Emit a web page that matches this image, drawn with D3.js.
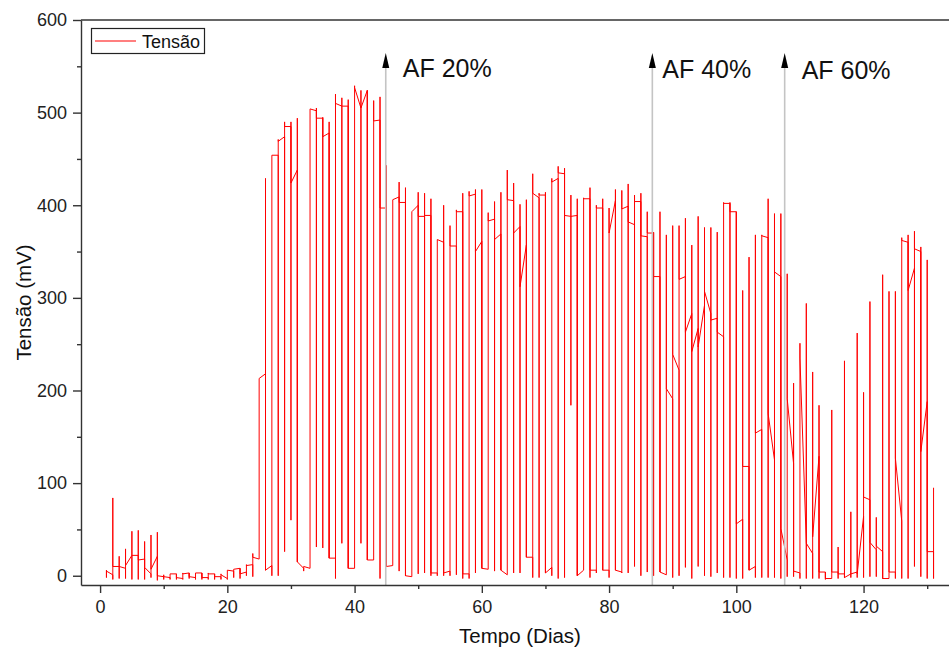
<!DOCTYPE html>
<html>
<head>
<meta charset="utf-8">
<script src="https://cdn.jsdelivr.net/npm/d3@7"></script>
<style>
  html, body { margin: 0; padding: 0; background: #fff; }
  svg { display: block; font-family: "Liberation Sans", Arial, sans-serif; }
</style>
</head>
<body>
<svg id="chart" width="949" height="653"></svg>
<script>
// Tensão diária: cada dia tem valor de entrada, mínimo, máximo e saída (mV)
const firstDay = 1;
const dayIn = [5, 1, 10, 8, 22, 22, 18, 2, 21, -1,
  -2, 2, -3, 3, -2, 3, -2, 2, -1, -3,
  5, 8, 4, 12, 18, 218, 11, 454, 474, 485,
  438, 8, 8, 502, 494, 478, 19, 507, 507, 8,
  505, 524, 17, 492, 397, 11, 409, 403, -1, 400,
  388, 389, 3, 360, 5, 356, 393, 2, 412, 361,
  7, 385, 369, 1, 405, 377, 357, 20, 408, 411,
  9, 429, 434, 388, 389, 6, 407, 6, 397, 6,
  405, 4, 399, 379, 404, 366, 370, 323, 1, 191,
  222, 323, 283, 267, 292, 283, 278, 258, 402, 393,
  61, 118, 10, 158, 365, 125, 323, 17, 121, 3,
  36, 24, 129, 4, -3, 4, 2, 2, 4, 64,
  82, 28, 26, -3, 4, 59, 360, 332, 350, 188,
  26];
const dayLow = [-2, -4, -3, -3, -4, -4, -4, -2, -5, -4,
  -4, -4, -4, -3, -4, -4, -4, -4, -4, -4,
  -2, -3, 0, -1, 18, 6, 0, 0, 26, 60,
  15, 5, 8, 31, 30, 19, -3, 35, 8, 8,
  35, 17, 17, -3, 10, 11, 5, 0, -1, 2,
  3, 0, 0, 0, 0, 1, -3, -3, 3, 8,
  7, 5, 6, 1, 3, 3, 20, -2, -2, 3,
  0, -3, -2, 184, 0, 6, -2, 3, 6, -2,
  6, 3, 3, 10, 0, 4, 0, 4, 1, -2,
  0, 9, -3, 10, 0, -1, 3, -2, -2, -3,
  -3, 6, -2, -2, -2, -2, -3, -1, -1, -3,
  -3, -3, -3, -4, -3, -3, -2, -2, -2, -2,
  -1, -1, -3, -3, -3, -3, -3, 10, -1, -3,
  -3];
const dayHigh = [6, 84, 21, 29, 48, 49, 37, 44, 47, 1,
  2, 2, 3, 3, 3, 3, 3, 2, 2, 6,
  7, 8, 12, 24, 213, 429, 454, 471, 490, 490,
  494, 10, 503, 505, 495, 490, 520, 516, 514, 529,
  524, 524, 513, 517, 443, 406, 425, 419, 393, 414,
  413, 407, 363, 400, 378, 395, 413, 415, 417, 417,
  392, 404, 414, 438, 424, 401, 406, 434, 413, 414,
  429, 442, 440, 411, 407, 408, 419, 400, 407, 397,
  417, 416, 423, 411, 413, 393, 371, 393, 368, 378,
  378, 386, 357, 388, 376, 376, 371, 403, 403, 393,
  308, 344, 368, 368, 407, 391, 391, 326, 208, 251,
  294, 220, 184, 4, 179, 31, 232, 69, 262, 198,
  296, 63, 325, 307, 307, 365, 368, 372, 355, 341,
  95];
const dayOut = [5, 10, 10, 11, 22, 17, 9, 7, 0, -1,
  2, -2, 2, -1, 3, -2, 2, -1, 1, 6,
  7, 2, 11, 20, 213, 6, 454, 469, 485, 424,
  15, 10, 504, 494, 474, 19, 510, 507, 8, 527,
  505, 17, 491, 397, 10, 406, 403, 0, 393, 388,
  389, 3, 363, 3, 356, 393, 2, 410, 350, 8,
  383, 363, 6, 406, 370, 312, 20, 413, 411, 3,
  425, 435, 389, 388, 0, 407, 6, 397, 6, 370,
  6, 396, 382, 404, 367, 370, 323, 4, 202, 239,
  320, 263, 242, 247, 307, 276, 263, 402, 393, 56,
  118, 6, 154, 367, 175, 328, 51, 191, 5, 235,
  35, 42, 4, -3, 4, 2, -2, 2, 2, 85,
  36, 32, -3, 4, 127, 362, 308, 353, 134, 26,
  95];

// Marcos de alimentação (AF)
const afDays = [44.9, 86.8, 107.6];
const afLabels = ["AF 20%", "AF 40%", "AF 60%"];

const xMajor = [0, 20, 40, 60, 80, 100, 120];
const xMinor = [10, 30, 50, 70, 90, 110, 130];
const yMajor = [0, 100, 200, 300, 400, 500, 600];
const yMinor = [50, 150, 250, 350, 450, 550];

const svg = d3.select("#chart");
const mLeft = 81, mRight = 959, mTop = 20, mBottom = 585;

const x = d3.scaleLinear().domain([-3, 135]).range([mLeft, mRight]);
const y = d3.scaleLinear().domain([-10, 600]).range([mBottom, mTop]);

// build the series: in -> low -> high -> out at each day
const points = [];
dayIn.forEach((v, i) => {
  const d = firstDay + i;
  points.push([d, v], [d, dayLow[i]], [d, dayHigh[i]], [d, dayOut[i]]);
});

const line = d3.line().x(d => x(d[0])).y(d => y(d[1]));

svg.append("path")
  .datum(points)
  .attr("fill", "none")
  .attr("stroke", "#ff0000")
  .attr("stroke-width", 1)
  .attr("d", line);

// annotation arrows
const labelDx = [17, 10, 17];
const labelY = [77, 78, 79];
const ann = svg.append("g");
afDays.forEach((d, i) => {
  const ax = x(d);
  ann.append("line")
    .attr("x1", ax).attr("x2", ax)
    .attr("y1", mBottom).attr("y2", 62)
    .attr("stroke", "#c4c4c4").attr("stroke-width", 1.6);
  ann.append("path")
    .attr("d", `M${ax},53 L${ax - 3.5},68 L${ax + 3.5},68 Z`)
    .attr("fill", "#000");
  ann.append("text")
    .attr("x", ax + labelDx[i]).attr("y", labelY[i])
    .attr("font-size", 25).attr("fill", "#111")
    .text(afLabels[i]);
});

// axes
const axisColor = "#333";
svg.append("g").attr("transform", `translate(0,${mBottom})`)
  .call(d3.axisBottom(x).tickValues(xMajor).tickSize(8).tickPadding(7).tickSizeOuter(0));
svg.append("g").attr("transform", `translate(0,${mBottom})`)
  .call(d3.axisBottom(x).tickValues(xMinor).tickSize(4).tickFormat("").tickSizeOuter(0))
  .select(".domain").remove();

svg.append("g").attr("transform", `translate(${mLeft},0)`)
  .call(d3.axisLeft(y).tickValues(yMajor).tickSize(8).tickPadding(6).tickSizeOuter(0));
svg.append("g").attr("transform", `translate(${mLeft},0)`)
  .call(d3.axisLeft(y).tickValues(yMinor).tickSize(4).tickFormat("").tickSizeOuter(0))
  .select(".domain").remove();

svg.selectAll(".domain, .tick line")
  .attr("stroke", axisColor).attr("stroke-width", 1.4);
svg.selectAll(".tick text")
  .attr("font-size", 18).attr("fill", "#222")
  .attr("font-family", "Liberation Sans, Arial, sans-serif");

// top frame line
svg.append("line")
  .attr("x1", mLeft).attr("x2", mRight)
  .attr("y1", mTop).attr("y2", mTop)
  .attr("stroke", axisColor).attr("stroke-width", 1.4);

// axis titles
svg.append("text")
  .attr("x", (mLeft + mRight) / 2).attr("y", 643)
  .attr("text-anchor", "middle").attr("font-size", 20.5).attr("fill", "#111")
  .text("Tempo (Dias)");
svg.append("text")
  .attr("transform", `translate(31,${(mTop + mBottom) / 2}) rotate(-90)`)
  .attr("text-anchor", "middle").attr("font-size", 20.5).attr("fill", "#111")
  .text("Tensão (mV)");

// legend
const lg = svg.append("g");
lg.append("rect")
  .attr("x", 91.5).attr("y", 28.5).attr("width", 113).attr("height", 25)
  .attr("fill", "#fff").attr("stroke", "#222").attr("stroke-width", 1.2);
lg.append("line")
  .attr("x1", 95).attr("x2", 136).attr("y1", 41).attr("y2", 41)
  .attr("stroke", "#ff0000").attr("stroke-width", 1.2);
lg.append("text")
  .attr("x", 142).attr("y", 47.5).attr("font-size", 18).attr("fill", "#111")
  .text("Tensão");
</script>
</body>
</html>
